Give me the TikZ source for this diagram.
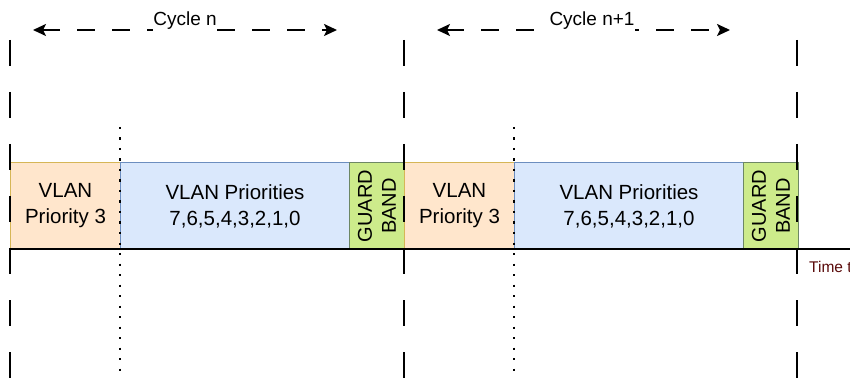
\documentclass[tikz,border=0pt]{standalone}
\usepackage{fontspec}
\setmainfont{Liberation Sans}
\usetikzlibrary{arrows.meta}
\definecolor{orfill}{HTML}{FFE6CC}
\definecolor{orline}{HTML}{D6B656}
\definecolor{blfill}{HTML}{DAE8FC}
\definecolor{blline}{HTML}{6C8EBF}
\definecolor{grfill}{HTML}{CDEB8B}
\definecolor{grline}{HTML}{6D8764}
\definecolor{timecol}{HTML}{5A0A0A}
\begin{document}
\begin{tikzpicture}[x=1pt,y=-1pt,
  box/.style={draw, line width=1pt, minimum height=87pt, inner sep=0pt, anchor=north west, align=center, font=\fontsize{20.5}{26}\selectfont},
  orbox/.style={box, fill=orfill, draw=orline, minimum width=110pt},
  blbox/.style={box, fill=blfill, draw=blline, minimum width=229pt},
  grbox/.style={box, fill=grfill, draw=grline, minimum width=55pt},
  gtext/.style={rotate=90, align=center, inner sep=0pt, font=\fontsize{20}{24}\selectfont},
  vdash/.style={line width=2pt, dash pattern=on 26pt off 26pt},
  vdot/.style={line width=2.2pt, dash pattern=on 2.2pt off 8.3pt},
  cyc/.style={line width=2pt, dash pattern=on 18pt off 17pt, {Stealth[length=13pt,width=12pt,inset=3pt]}-{Stealth[length=13pt,width=12pt,inset=3pt]}},
  clabel/.style={fill=white, inner xsep=0pt, inner ysep=2pt, font=\fontsize{19}{21}\selectfont}
]
\useasboundingbox (0,0) rectangle (850,379);
\fill[white] (0,0) rectangle (850,379);

% boxes, cycle n
\node[orbox] (p1) at (10,162) {VLAN\\Priority 3};
\node[blbox] (a1) at (120,162) {VLAN Priorities\\7,6,5,4,3,2,1,0};
\node[grbox] (g1) at (349,162) {};
\node[gtext] (gt1) at (g1.center) {GUARD\\BAND};
% boxes, cycle n+1
\node[orbox] (p2) at (404,162) {VLAN\\Priority 3};
\node[blbox] (a2) at (514,162) {VLAN Priorities\\7,6,5,4,3,2,1,0};
\node[grbox] (g2) at (743,162) {};
\node[gtext] (gt2) at (g2.center) {GUARD\\BAND};

% timeline
\coordinate (t0) at (10,249);
\coordinate (t1) at (850,249);
\draw[line width=2pt] (t0) -- (t1);

% cycle boundaries
\coordinate (b1t) at (10,40);  \coordinate (b1b) at (10,379);
\coordinate (b2t) at (404,40); \coordinate (b2b) at (404,379);
\coordinate (b3t) at (797,40); \coordinate (b3b) at (797,379);
\draw[vdash] (b1t) -- (b1b);
\draw[vdash] (b2t) -- (b2b);
\draw[vdash] (b3t) -- (b3b);

% dotted separators
\coordinate (d1t) at (120,127); \coordinate (d1b) at (120,379);
\coordinate (d2t) at (514,127); \coordinate (d2b) at (514,379);
\draw[vdot] (d1t) -- (d1b);
\draw[vdot] (d2t) -- (d2b);

% cycle arrows
\coordinate (c1l) at (33,30);  \coordinate (c1r) at (337,30);
\coordinate (c2l) at (437,30); \coordinate (c2r) at (730,30);
\draw[cyc] (c1l) -- (c1r);
\draw[cyc] (c2l) -- (c2r);
\node[clabel] (cl1) at (185,21) {Cycle n};
\node[clabel] (cl2) at (592,21) {Cycle n+1};

% time label
\node[anchor=west, inner sep=0pt, text=timecol, font=\fontsize{15.5}{17}\selectfont] (tl) at (809,267) {Time t};
\end{tikzpicture}
\end{document}
